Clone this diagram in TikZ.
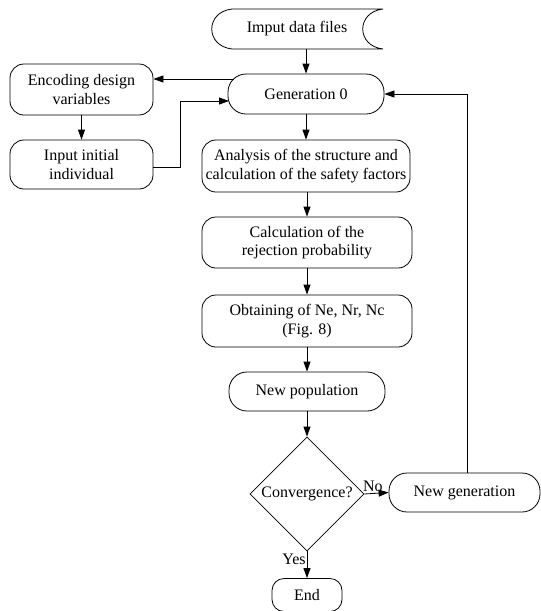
\documentclass[tikz,border=0pt]{standalone}
\usepackage{fontspec}
\setmainfont{Liberation Serif}
\usetikzlibrary{shapes.geometric,arrows.meta}
\begin{document}
\begin{tikzpicture}[x=1pt,y=-1pt,
  every node/.style={font=\fontsize{16}{18.5}\selectfont},
  ln/.style={line width=0.8pt},
  box/.style={draw,ln,rectangle,rounded corners=14pt,align=center,inner sep=0pt},
  pill/.style={box,rounded corners=18pt},
  arr/.style={ln,-{Triangle[length=10pt,width=7pt]}},
  dec/.style={draw,ln,diamond,shape aspect=1,inner sep=0pt,minimum width=114pt,minimum height=114pt}
]
\useasboundingbox (0,0) rectangle (541,611);
% input data shape
\draw[ln] (232,9) -- (383,9) .. controls (356,12) and (356,46) .. (383,49)
  -- (232,49) .. controls (205,46) and (205,12) .. (232,9);
\node (inp) at (297,29) [minimum width=171pt,minimum height=40pt,inner sep=0pt] {Imput data files};

\node[pill,minimum width=156pt,minimum height=40pt] (gen) at (306,94) {Generation 0};
\node[box,minimum width=143pt,minimum height=51pt] (enc) at (81.5,89.5) {Encoding design\\variables};
\node[box,minimum width=143pt,minimum height=49pt] (ini) at (81.5,164.5) {Input initial\\individual};
\node[box,minimum width=208pt,minimum height=52pt] (ana) at (306,166) {Analysis of the structure and\\calculation of the safety factors};
\node[box,minimum width=210pt,minimum height=51pt] (cal) at (307,242.5) {Calculation of the\\rejection probability};
\node[box,minimum width=210pt,minimum height=52pt] (obt) at (307,321) {Obtaining of Ne, Nr, Nc\\(Fig. 8)};
\node[pill,minimum width=156pt,minimum height=39pt] (newp) at (307,391.5) {New population};
\node[dec] (conv) at (307,494) {Convergence?};
\node[pill,minimum width=151pt,minimum height=39pt] (newg) at (464.5,492.5) {New generation};
\node[box,rounded corners=12pt,minimum width=70pt,minimum height=33pt] (end) at (307,595) {End};

% connectors
\draw[arr] (inp.south -| gen.north) -- (gen.north);
\coordinate (gA) at (234,79);
\draw[arr] (gA) -- (gA -| enc.east);
\draw[arr] (enc.south) -- (ini.north);
\coordinate (b1) at (180,167);
\coordinate (b2) at (180,101);
\coordinate (gB) at (229,101);
\draw[arr] (b1 -| ini.east) -- (b1) -- (b2) -- (gB);
\draw[arr] (gen.south) -- (ana.north -| gen.south);
\draw[arr] (ana.south -| cal.north) -- (cal.north);
\draw[arr] (cal.south) -- (obt.north);
\draw[arr] (obt.south) -- (newp.north);
\draw[arr] (newp.south) -- (conv.north);
\draw[arr] (conv.south) -- node[pos=0.3,anchor=east,inner sep=1pt] {Yes} (end.north);
\draw[arr] (conv.east) -- node[pos=0.35,anchor=south,inner sep=1pt] {No} (newg.west);
\coordinate (fb) at (467,94);
\draw[arr] (fb |- newg.north) -- (fb) -- (gen.east |- fb);
\end{tikzpicture}
\end{document}
